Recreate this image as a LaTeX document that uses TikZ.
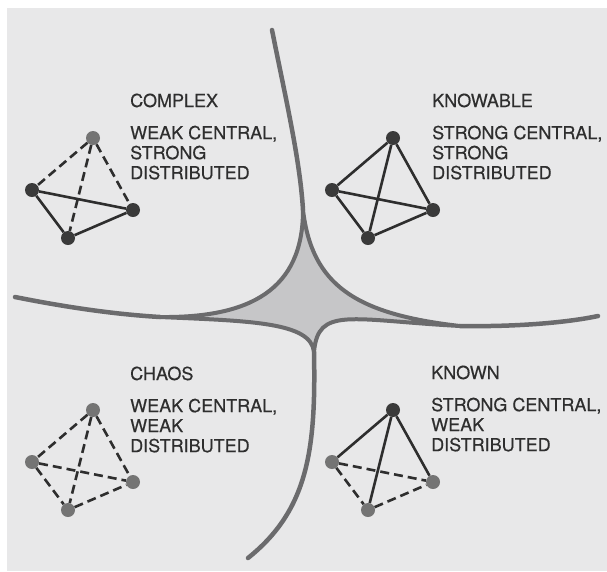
\documentclass[tikz,border=0pt]{standalone}
\usepackage{fontspec}
\setmainfont{TeX Gyre Heros}
\newfontfamily\scanfont{TeX Gyre Heros}[FakeBold=0.4]
\usetikzlibrary{positioning}

\definecolor{paper}{HTML}{E8E8E9}
\definecolor{curvecol}{HTML}{6B6B6D}
\definecolor{corecol}{HTML}{C6C6C8}
\definecolor{inkcol}{HTML}{2E2E2E}
\definecolor{dotdark}{HTML}{3A3A3A}
\definecolor{dotgrey}{HTML}{747474}

\begin{document}
\begin{tikzpicture}[
    x=1pt, y=-1pt, % one unit is one pixel of the scan, y runs down
    title/.style={anchor=base west, inner sep=0pt, text=inkcol, font=\scanfont\fontsize{18}{20}\selectfont},
    desc/.style={inner sep=0pt, text=inkcol, align=left, font=\scanfont\fontsize{18}{20}\selectfont},
    dot strong/.style={circle, fill=dotdark, minimum size=14pt, inner sep=0pt},
    dot weak/.style={circle, fill=dotgrey, minimum size=14pt, inner sep=0pt},
    link strong/.style={draw=inkcol, line width=2.6pt},
    link weak/.style={draw=inkcol, line width=2.6pt, dash pattern=on 9pt off 5pt},
    arm/.style={draw=curvecol, line width=4.5pt, line cap=round}
]
    \useasboundingbox (0,0) rectangle (607,571);

    % --- Layer 1: paper ---
    \fill[white] (0,0) rectangle (607,571);
    \fill[paper] (7,8) rectangle (607,571);

    % --- Layer 2: the four boundaries ---
    \coordinate (arm-n) at (272,30);
    \coordinate (arm-e) at (598,316);
    \coordinate (arm-s) at (248,558);
    \coordinate (arm-w) at (15,297);
    \coordinate (tip-n) at (303,210);
    \coordinate (tip-e) at (460,326);
    \coordinate (tip-s) at (314,352);
    \coordinate (tip-w) at (160,317);

    % shaded core between the tips
    \filldraw[fill=corecol, draw=curvecol, line width=4pt]
        (tip-n) .. controls (312,285) and (355,314) .. (tip-e)
        .. controls (350,320) and (318,306) .. (tip-s)
        .. controls (311,322) and (250,321) .. (tip-w)
        .. controls (250,318) and (303,290) .. (tip-n) -- cycle;

    % arms running out to the edges
    \draw[arm] (arm-n) .. controls (286,100) and (300,160) .. (tip-n);
    \draw[arm] (tip-e) .. controls (520,327) and (570,322) .. (arm-e);
    \draw[arm] (tip-s) .. controls (316,450) and (308,510) .. (arm-s);
    \draw[arm] (arm-w) .. controls (60,306) and (110,314) .. (tip-w);

    % --- Layer 3: one tetrahedron per quadrant ---
    \foreach \q/\dx/\dy/\cen/\dis in {cx/0/0/weak/strong, kb/300/0/strong/strong,
                                      ch/0/272/weak/weak, kn/300/272/strong/weak} {
        \begin{scope}[shift={(\dx,\dy)}]
            \node[dot \cen] (\q-t) at (93,138) {};
            \node[dot \dis] (\q-l) at (32,190) {};
            \node[dot \dis] (\q-r) at (133,210) {};
            \node[dot \dis] (\q-b) at (68,238) {};
            \draw[link \dis] (\q-l) -- (\q-r) (\q-l) -- (\q-b) (\q-b) -- (\q-r);
            \draw[link \cen] (\q-t) -- (\q-l) (\q-t) -- (\q-r) (\q-t) -- (\q-b);
        \end{scope}
    }

    % --- Layer 4: labels ---
    \node[title] (cx-title) at (130,107) {COMPLEX};
    \node[desc, below=18pt of cx-title.south west, anchor=north west] (cx-desc)
        {WEAK CENTRAL,\\STRONG\\DISTRIBUTED};
    \node[title] (kb-title) at (432,107) {KNOWABLE};
    \node[desc, below=18pt of kb-title.south west, anchor=north west] (kb-desc)
        {STRONG CENTRAL,\\STRONG\\DISTRIBUTED};
    \node[title] (ch-title) at (130,380) {CHAOS};
    \node[desc, below=18pt of ch-title.south west, anchor=north west] (ch-desc)
        {WEAK CENTRAL,\\WEAK\\DISTRIBUTED};
    \node[title] (kn-title) at (431,379) {KNOWN};
    \node[desc, below=18pt of kn-title.south west, anchor=north west] (kn-desc)
        {STRONG CENTRAL,\\WEAK\\DISTRIBUTED};
\end{tikzpicture}
\end{document}
